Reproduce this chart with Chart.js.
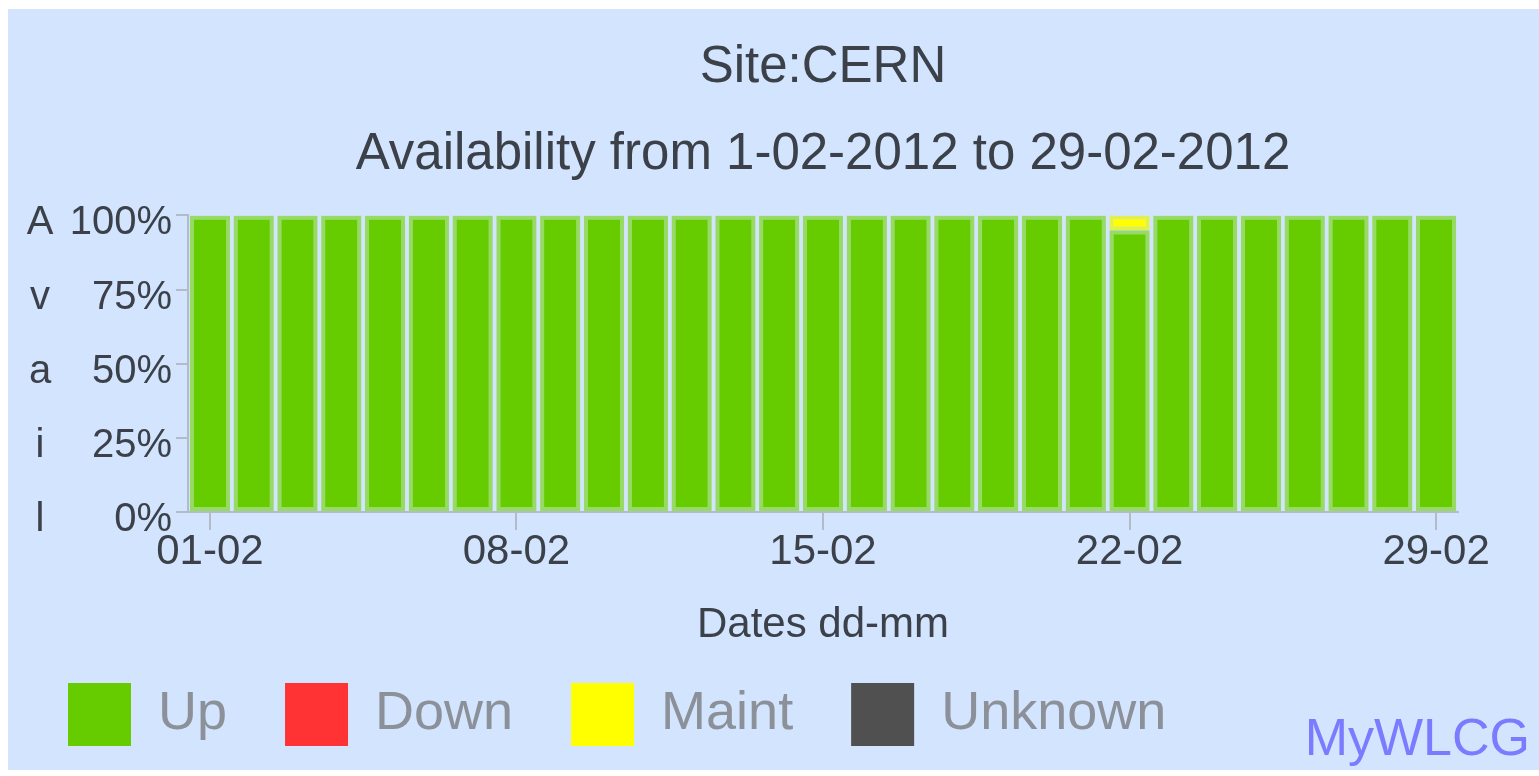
<!DOCTYPE html>
<html>
<head>
<meta charset="utf-8">
<title>Site:CERN availability</title>
<script src="https://cdn.jsdelivr.net/npm/chart.js@4.4.1/dist/chart.umd.min.js"></script>
<style>
    html, body { margin: 0; padding: 0; background: #ffffff; }
    #wrap {
        position: absolute; left: 8px; top: 9px;
        width: 1531px; height: 761px;
        background: #d2e4fe;
    }
    #brand {
        position: absolute; right: 9px; top: 702px;
        font: 52px 'Liberation Sans', Arial, sans-serif;
        line-height: 1;
        color: #7b7bff;
    }
</style>
</head>
<body>
<div id="wrap">
    <canvas id="availChart" width="1531" height="761"></canvas>
    <div id="brand">MyWLCG</div>
</div>

<script>
/* ===================================================== */
/* DATA                                                    */
/* ===================================================== */

const titleText = 'Site:CERN';
const subtitleText = 'Availability from 1-02-2012 to 29-02-2012';
const xTitle = 'Dates dd-mm';
const yTitle = 'Avail';

const days = [
    '01-02', '02-02', '03-02', '04-02', '05-02', '06-02', '07-02',
    '08-02', '09-02', '10-02', '11-02', '12-02', '13-02', '14-02',
    '15-02', '16-02', '17-02', '18-02', '19-02', '20-02', '21-02',
    '22-02', '23-02', '24-02', '25-02', '26-02', '27-02', '28-02',
    '29-02'
];

const upValues = [
    100, 100, 100, 100, 100, 100, 100,
    100, 100, 100, 100, 100, 100, 100,
    100, 100, 100, 100, 100, 100, 100,
    95, 100, 100, 100, 100, 100, 100,
    100
];

const downValues = [
    0, 0, 0, 0, 0, 0, 0,
    0, 0, 0, 0, 0, 0, 0,
    0, 0, 0, 0, 0, 0, 0,
    0, 0, 0, 0, 0, 0, 0,
    0
];

const maintValues = [
    0, 0, 0, 0, 0, 0, 0,
    0, 0, 0, 0, 0, 0, 0,
    0, 0, 0, 0, 0, 0, 0,
    5, 0, 0, 0, 0, 0, 0,
    0
];

const unknownValues = [
    0, 0, 0, 0, 0, 0, 0,
    0, 0, 0, 0, 0, 0, 0,
    0, 0, 0, 0, 0, 0, 0,
    0, 0, 0, 0, 0, 0, 0,
    0
];

const yTicks = [0, 25, 50, 75, 100];
const labelEvery = 7;

/* ===================================================== */
/* STYLE                                                   */
/* ===================================================== */

const FONT = "'Liberation Sans', Arial, sans-serif";
const TEXT_DARK = '#3b4049';
const TEXT_LEGEND = '#8b9099';
const AXIS_GREY = '#b2bcc8';
const Y_LABEL_SHIFT = 8;

/* ===================================================== */
/* PLUGINS                                                 */
/* ===================================================== */

// titles are centred over the plot, not the whole canvas
const centreTitles = {
    id: 'centreTitles',
    afterLayout(chart) {
        chart.boxes.forEach(box => {
            if (box.position === 'top') {
                box.left = chart.chartArea.left;
                box.right = chart.chartArea.right;
                box.width = box.right - box.left;
            }
        });
    }
};

// vertical y title, one letter next to each tick label
const stackedYTitle = {
    id: 'stackedYTitle',
    afterDraw(chart) {
        const y = chart.scales.y;
        const ctx = chart.ctx;
        const letters = yTitle.split('');
        const values = yTicks.slice().reverse();
        ctx.save();
        ctx.font = '40px ' + FONT;
        ctx.fillStyle = TEXT_DARK;
        ctx.textAlign = 'center';
        ctx.textBaseline = 'middle';
        letters.forEach((ch, i) => {
            ctx.fillText(ch, 32, y.getPixelForValue(values[i]) + Y_LABEL_SHIFT);
        });
        ctx.restore();
    }
};

/* ===================================================== */
/* CHART                                                   */
/* ===================================================== */

function makeDataset(label, values, fill, edge, width) {
    return {
        label: label,
        data: values,
        backgroundColor: fill,
        borderColor: edge,
        borderWidth: width,
        borderSkipped: false,
        barPercentage: 0.92,
        categoryPercentage: 1
    };
}

function renderChart() {
    const ctx = document.getElementById('availChart').getContext('2d');

    new Chart(ctx, {
        type: 'bar',
        data: {
            labels: days,
            datasets: [
                makeDataset('Up', upValues, '#66cc00', '#97da64', 4),
                makeDataset('Down', downValues, '#ff3333', '#ff6666', 0),
                makeDataset('Maint', maintValues, '#ffff00', '#e4f04a', 4),
                makeDataset('Unknown', unknownValues, '#505050', '#6a6e76', 0)
            ]
        },
        plugins: [centreTitles, stackedYTitle],
        options: {
            responsive: false,
            animation: false,
            devicePixelRatio: 1,
            layout: {
                padding: { left: 2, right: 81, top: 0, bottom: 14 }
            },
            plugins: {
                tooltip: { enabled: false },
                title: {
                    display: true,
                    text: titleText,
                    color: TEXT_DARK,
                    font: { family: FONT, size: 51, weight: 'normal', lineHeight: 1.2 },
                    padding: { top: 28, bottom: 0 }
                },
                subtitle: {
                    display: true,
                    text: subtitleText,
                    color: TEXT_DARK,
                    font: { family: FONT, size: 51, weight: 'normal', lineHeight: 1.2 },
                    padding: { top: 26, bottom: 30 }
                },
                legend: {
                    position: 'bottom',
                    align: 'start',
                    labels: {
                        boxWidth: 63,
                        boxHeight: 63,
                        padding: 58,
                        color: TEXT_LEGEND,
                        font: { family: FONT, size: 54 },
                        generateLabels(chart) {
                            const items = Chart.defaults.plugins.legend.labels.generateLabels(chart);
                            return items.map(item => Object.assign(item, { lineWidth: 0 }));
                        }
                    }
                }
            },
            scales: {
                x: {
                    stacked: true,
                    afterFit(scale) { scale.height = 113; },
                    border: { display: true, color: AXIS_GREY, width: 2 },
                    grid: {
                        offset: false,
                        drawOnChartArea: false,
                        tickLength: 18,
                        lineWidth: 2,
                        color: c => (c.index % labelEvery === 0 ? AXIS_GREY : 'transparent')
                    },
                    ticks: {
                        autoSkip: false,
                        maxRotation: 0,
                        padding: 1,
                        color: TEXT_DARK,
                        font: { family: FONT, size: 42, lineHeight: 1 },
                        callback: (v, i) => (i % labelEvery === 0 ? days[i] : '')
                    },
                    title: {
                        display: true,
                        text: xTitle,
                        color: TEXT_DARK,
                        font: { family: FONT, size: 42, lineHeight: 1 },
                        padding: { top: 0, bottom: -21 }
                    }
                },
                y: {
                    stacked: true,
                    min: 0,
                    max: 100,
                    afterFit(scale) { scale.width = 178; },
                    border: { display: true, color: AXIS_GREY, width: 2 },
                    grid: {
                        drawOnChartArea: false,
                        tickLength: 12,
                        lineWidth: 2,
                        color: AXIS_GREY
                    },
                    afterBuildTicks(scale) {
                        scale.ticks = yTicks.map(v => ({ value: v }));
                    },
                    ticks: {
                        padding: 4,
                        labelOffset: Y_LABEL_SHIFT,
                        color: TEXT_DARK,
                        font: { family: FONT, size: 40 },
                        callback: v => v + '%'
                    }
                }
            }
        }
    });
}

document.addEventListener('DOMContentLoaded', renderChart);
</script>
</body>
</html>
